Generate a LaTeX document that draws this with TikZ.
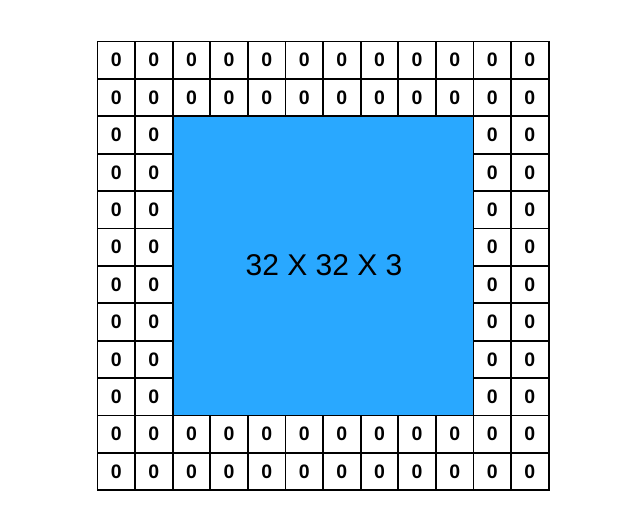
\documentclass[tikz,border=0pt]{standalone}
\usepackage{fontspec}
\setmainfont{Liberation Sans}
\definecolor{fillblue}{RGB}{41,168,255}
\begin{document}
\begin{tikzpicture}[x=1pt,y=-1pt,
  cell/.style={draw=black,line width=1.9pt,minimum width=37.6pt,minimum height=37.4pt,inner sep=0pt,fill=white,font=\fontsize{19.5}{19.5}\selectfont\bfseries},
  core/.style={draw=black,line width=1.9pt,fill=fillblue,minimum width=300.8pt,minimum height=299.2pt,inner sep=0pt}]
\useasboundingbox (0,0) rectangle (638,530);
\foreach \r in {0,...,11}{
  \foreach \c in {0,...,11}{
    \pgfmathtruncatemacro{\inner}{(\r>1)&&(\r<10)&&(\c>1)&&(\c<10)}
    \ifnum\inner=0
      \node[cell] (c\r-\c) at ({97.5+37.6*\c+18.8},{41.5+37.4*\r+18.7}) {0};
    \fi
  }
}
\node[core] (img) at ({97.5+37.6*6},{41.5+37.4*6}) {};
\node[font=\fontsize{30}{30}\selectfont] (lbl) at (324,265) {32 X 32 X 3};
\end{tikzpicture}
\end{document}
